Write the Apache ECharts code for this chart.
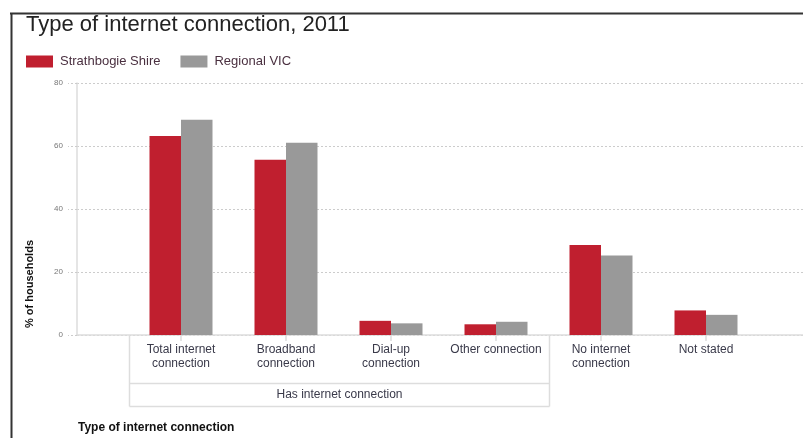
<!DOCTYPE html>
<html>
<head>
<meta charset="utf-8">
<script src="https://cdn.jsdelivr.net/npm/echarts@6/dist/echarts.min.js"></script>
<style>
html,body{margin:0;padding:0;background:#fff;}
#chart{width:803px;height:438px;}
</style>
</head>
<body>
<div id="chart"></div>
<script>
const titleText = 'Type of internet connection, 2011';
const categories = ['Total internet\nconnection', 'Broadband\nconnection', 'Dial-up\nconnection', 'Other connection', 'No internet\nconnection', 'Not stated'];
const seriesNames = ['Strathbogie Shire', 'Regional VIC'];
const strathbogie = [63.2, 55.6, 4.5, 3.4, 28.6, 7.8];
const regionalVic = [68.3, 61.0, 3.7, 4.2, 25.2, 6.4];
const groupLabels = ['Has internet connection'];
const groupRanges = [[0, 3]];
const yTicks = [0, 20, 40, 60, 80];
const yAxisName = '% of households';
const xAxisName = 'Type of internet connection';

const FONT = '"Liberation Sans", Arial, sans-serif';
const chart = echarts.init(document.getElementById('chart'), null, {renderer: 'canvas'});

const yMin = yTicks[0], yMax = yTicks[yTicks.length - 1], yStep = yTicks[1] - yTicks[0];

const option = {
  animation: false,
  backgroundColor: '#ffffff',
  color: ['#c01f2f', '#999999'],
  title: {
    text: titleText, left: 21, top: 9,
    textStyle: {fontFamily: FONT, fontSize: 22, fontWeight: 'normal', color: '#222'}
  },
  legend: {
    left: 21, top: 50, itemWidth: 27, itemHeight: 12, itemGap: 20,
    icon: 'rect',
    data: seriesNames,
    textStyle: {fontFamily: FONT, fontSize: 13, color: '#4a3040', padding: [0, 0, 0, 2]}
  },
  grid: [
    {left: 77, right: 0, top: 83, bottom: 103},
    {left: 128.5, right: 44.5, top: 83, bottom: 103}
  ],
  xAxis: [
    {gridIndex: 0, type: 'category', data: [''], axisLabel: {show: false}, axisTick: {show: false},
     axisLine: {show: true, lineStyle: {color: '#dddddd', width: 1.5}}},
    {gridIndex: 1, type: 'category', data: categories,
     axisLine: {show: false},
     axisTick: {show: true, alignWithLabel: true, length: 6, lineStyle: {color: '#dddddd', width: 1.5}},
     axisLabel: {interval: 0, margin: 8, fontFamily: FONT, fontSize: 12, lineHeight: 14, color: '#3a3a4a'}}
  ],
  yAxis: [
    {gridIndex: 0, type: 'value', min: yMin, max: yMax, interval: yStep,
     axisLine: {show: true, lineStyle: {color: '#dddddd', width: 1.5}},
     axisTick: {show: true, length: 9, lineStyle: {color: '#cccccc', type: [2, 2]}},
     axisLabel: {margin: 14, fontFamily: FONT, fontSize: 8, color: '#777'},
     splitLine: {show: true, lineStyle: {color: '#cccccc', type: [2, 2], width: 1}}},
    {gridIndex: 1, type: 'value', min: yMin, max: yMax, interval: yStep, show: false}
  ],
  series: [
    {name: seriesNames[0], type: 'bar', xAxisIndex: 1, yAxisIndex: 1, data: strathbogie,
     barGap: '0%', barCategoryGap: '40%', itemStyle: {color: '#c01f2f'}},
    {name: seriesNames[1], type: 'bar', xAxisIndex: 1, yAxisIndex: 1, data: regionalVic,
     barGap: '0%', barCategoryGap: '40%', itemStyle: {color: '#999999'}}
  ]
};
chart.setOption(option);

// Decorations positioned from the chart's own scales
const c0 = chart.convertToPixel({xAxisIndex: 1}, 0);
const c1 = chart.convertToPixel({xAxisIndex: 1}, 1);
const bw = c1 - c0;
const y0 = chart.convertToPixel({yAxisIndex: 0}, yMin);
const yTop = chart.convertToPixel({yAxisIndex: 0}, yMax);
const lineCol = '#dddddd';
const graphics = [];
groupRanges.forEach((r, i) => {
  const xl = Math.round(chart.convertToPixel({xAxisIndex: 1}, r[0]) - bw / 2) + 0.5;
  const xr = Math.round(chart.convertToPixel({xAxisIndex: 1}, r[1]) + bw / 2) + 0.5;
  const yMid = Math.round(y0 + 48) + 0.5;
  const yBot = Math.round(y0 + 71) + 0.5;
  graphics.push({type: 'line', shape: {x1: xl, y1: y0, x2: xl, y2: yBot}, style: {stroke: lineCol, lineWidth: 1.5}});
  graphics.push({type: 'line', shape: {x1: xr, y1: y0, x2: xr, y2: yBot}, style: {stroke: lineCol, lineWidth: 1.5}});
  graphics.push({type: 'line', shape: {x1: xl, y1: yMid, x2: xr, y2: yMid}, style: {stroke: lineCol, lineWidth: 1.5}});
  graphics.push({type: 'line', shape: {x1: xl, y1: yBot, x2: xr, y2: yBot}, style: {stroke: lineCol, lineWidth: 1.5}});
  graphics.push({type: 'text', x: (xl + xr) / 2, y: (yMid + yBot) / 2,
    style: {text: groupLabels[i], font: '12px ' + FONT, fill: '#3a3a4a', align: 'center', verticalAlign: 'middle'}});
});
// y axis name
graphics.push({type: 'text', x: 30, y: (y0 + (y0 + yTop) / 2) / 2 + 12, rotation: Math.PI / 2,
  style: {text: yAxisName, font: 'bold 11px ' + FONT, fill: '#111', align: 'center', verticalAlign: 'middle'}});
// x axis name
graphics.push({type: 'text', x: 78, y: 428,
  style: {text: xAxisName, font: 'bold 12px ' + FONT, fill: '#111', align: 'left', verticalAlign: 'middle'}});
// frame
graphics.push({type: 'line', shape: {x1: 10, y1: 13.5, x2: 803, y2: 13.5}, style: {stroke: '#333', lineWidth: 2}});
graphics.push({type: 'line', shape: {x1: 11.5, y1: 13, x2: 11.5, y2: 438}, style: {stroke: '#333', lineWidth: 2}});
chart.setOption({graphic: graphics});
</script>
</body>
</html>
